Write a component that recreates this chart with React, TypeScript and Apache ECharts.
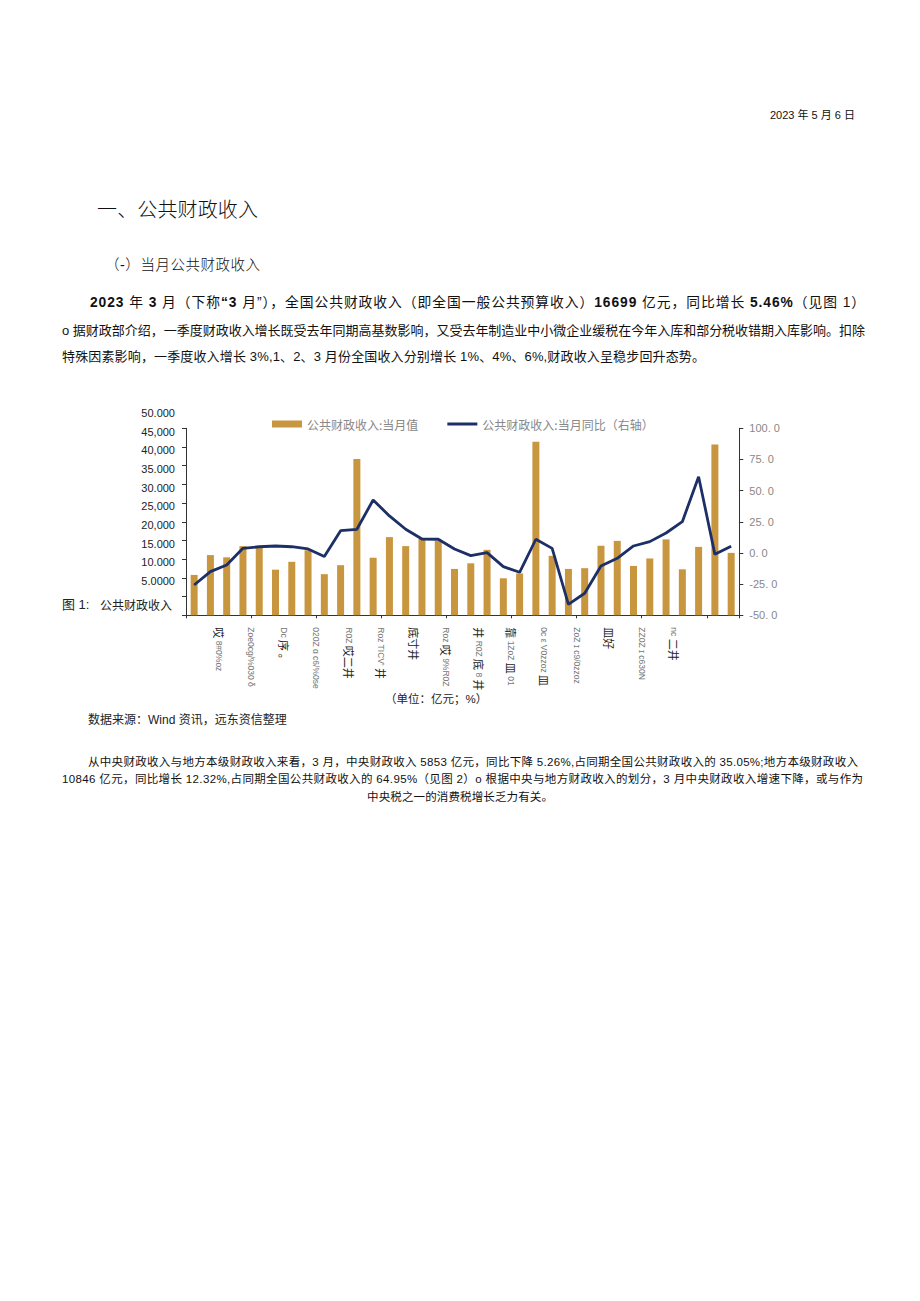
import React, { useEffect, useLayoutEffect, useRef } from 'react';
import * as echarts from 'echarts';

// ---- data ----
const categories = [
  '2020-03', '2020-04', '2020-05', '2020-06', '2020-07', '2020-08', '2020-09', '2020-10', '2020-11', '2020-12',
  '2021-02', '2021-03', '2021-04', '2021-05', '2021-06', '2021-07', '2021-08', '2021-09', '2021-10', '2021-11', '2021-12',
  '2022-02', '2022-03', '2022-04', '2022-05', '2022-06', '2022-07', '2022-08', '2022-09', '2022-10', '2022-11', '2022-12',
  '2023-02', '2023-03',
];
const revenue = [
  10800, 16100, 15500, 18500, 18100, 12200, 14300, 17400, 11000, 13400,
  41800, 15400, 20900, 18500, 20400, 19900, 12400, 13900, 17500, 9900, 11200,
  46400, 15900, 12400, 12600, 18600, 19900, 13200, 15200, 20300, 12300, 18300,
  45700, 16699,
];
const yoy = [
  -25.7, -15, -9.6, 3.7, 5, 5.6, 5, 3.2, -2.9, 17.9,
  19.0, 42.5, 29.7, 19, 11.2, 11, 3.2, -2.1, 0.3, -11, -15.5,
  11, 3.7, -41.2, -32.3, -10.4, -4.3, 5.6, 9.1, 16, 25.1, 61.2,
  -1.1, 5.46,
];
const leftTickLabels = ['', '5.0000', '10.000', '15.000', '20,000', '25,000', '30.000', '35.000', '40,000', '45,000', '50.000'];
const rightTickLabels = ['-50. 0', '-25. 0', '0. 0', '25. 0', '50. 0', '75. 0', '100. 0'];
const xTickLabels = [
  '', '哎 8#0%oz', 'Zoe0cg/%030 δ', 'Dc 序 。', '020Z ɑ c6/%0se', 'R0Z 哎二井', "Roz TICV' 井", '底寸井',
  'Roz 哎 9%R0Z', '井 R0Z 底 8 井', '靠 1ZoZ 皿 01', '0c ε V0zzoz 皿', 'ZoZ ɪ c9/0zzoz', '皿好',
  'ZZ0Z ɪ c630N', 'nc 二井', '', '',
];
const barName = '公共财政收入:当月值';
const lineName = '公共财政收入:当月同比（右轴）';

const FONT = '"Liberation Sans", "Noto Sans CJK SC", sans-serif';
const CJK = '"Noto Sans CJK SC", sans-serif';

const richify = (s: string) =>
  s
    .split(/([\u3000-\u303f\u4e00-\u9fff\uff00-\uffef]+)/)
    .map((p, i) => (p === '' ? '' : i % 2 === 1 ? `{c|${p}}` : `{l|${p}}`))
    .join('');

function Chart() {
  const ref = useRef<HTMLDivElement>(null);
  useEffect(() => {
    if (!ref.current) return;
    const chart = echarts.init(ref.current, undefined, { renderer: 'svg' });
    chart.setOption({
      animation: false,
      textStyle: { fontFamily: FONT },
      legend: {
        top: 18,
        left: 267,
        itemWidth: 30,
        itemHeight: 7,
        itemGap: 29,
        textStyle: { color: '#888', fontSize: 12, fontFamily: CJK },
        data: [
          { name: barName, icon: 'rect' },
          { name: lineName, icon: 'path://M0,0 L30,0 L30,3 L0,3 Z', itemStyle: { color: '#1C2F66' } },
        ],
      },
      grid: { left: 186, right: 180.7, top: 33.3, bottom: 124.7, containLabel: false },
      xAxis: [
        {
          type: 'category',
          data: categories,
          boundaryGap: true,
          axisLine: { show: true, lineStyle: { color: '#333', width: 1 } },
          axisTick: { show: true, length: 3, lineStyle: { color: '#333' } },
          axisLabel: { show: false },
          splitLine: { show: false },
        },
        {
          type: 'category',
          data: xTickLabels,
          boundaryGap: false,
          position: 'bottom',
          axisLine: { show: false },
          axisTick: { show: false },
          splitLine: { show: false },
          axisLabel: {
            interval: 0,
            rotate: -90,
            margin: 12,
            fontSize: 9,
            color: '#777',
            formatter: (v: string) => richify(v),
            rich: {
              c: { fontSize: 11, color: '#222', fontFamily: CJK },
              l: { fontSize: 8.5, color: '#777', fontFamily: FONT },
            },
          },
        },
      ],
      yAxis: [
        {
          type: 'value',
          min: 0,
          max: 50000,
          interval: 5000,
          axisLine: { show: true, lineStyle: { color: '#333', width: 1 } },
          axisTick: { show: true, length: 4, lineStyle: { color: '#333' } },
          splitLine: { show: false },
          axisLabel: {
            formatter: (v: number) => leftTickLabels[Math.round(v / 5000)] ?? '',
            verticalAlign: 'bottom',
            padding: [0, 0, 10, 0],
            color: '#222',
            fontSize: 11,
            margin: 11,
          },
        },
        {
          type: 'value',
          min: -50,
          max: 100,
          interval: 25,
          position: 'right',
          axisLine: { show: true, lineStyle: { color: '#333', width: 1 } },
          axisTick: { show: true, length: 4, lineStyle: { color: '#333' } },
          splitLine: { show: false },
          axisLabel: {
            formatter: (v: number) => rightTickLabels[Math.round((v + 50) / 25)] ?? '',
            color: '#888',
            fontSize: 11,
            margin: 10,
          },
        },
      ],
      series: [
        {
          name: barName,
          type: 'bar',
          xAxisIndex: 0,
          yAxisIndex: 0,
          data: revenue,
          barWidth: 7,
          itemStyle: { color: '#C8963F' },
        },
        {
          name: lineName,
          type: 'line',
          xAxisIndex: 0,
          yAxisIndex: 1,
          data: yoy,
          symbol: 'none',
          showSymbol: false,
          lineStyle: { color: '#1C2F66', width: 2.8 },
          itemStyle: { color: '#1C2F66' },
        },
      ],
      graphic: [
        {
          type: 'text',
          x: 62,
          y: 209,
          style: { text: '图 1:', fontSize: 13, fill: '#222', verticalAlign: 'middle', fontFamily: FONT },
        },
        {
          type: 'text',
          x: 100,
          y: 209,
          style: { text: '公共财政收入', fontSize: 12, fill: '#222', verticalAlign: 'middle', fontFamily: CJK },
        },
        {
          type: 'text',
          x: 385,
          y: 304,
          style: { text: '（单位：亿元；%）', fontSize: 11.5, fill: '#222', verticalAlign: 'middle', fontFamily: FONT },
        },
        {
          type: 'text',
          x: 88,
          y: 325,
          style: { text: '数据来源：Wind 资讯，远东资信整理', fontSize: 12, fill: '#222', verticalAlign: 'middle', fontFamily: FONT },
        },
      ],
    });
    return () => chart.dispose();
  }, []);
  return <div ref={ref} style={{ position: 'absolute', left: 0, top: 395, width: 920, height: 345 }} />;
}

// A single line of text stretched (via letter-spacing) to a given width
function FitLine(props: {
  left: number;
  top: number;
  width?: number;
  fontSize: number;
  weight?: number;
  children: React.ReactNode;
}) {
  const ref = useRef<HTMLDivElement>(null);
  useLayoutEffect(() => {
    const el = ref.current;
    if (!el || !props.width) return;
    el.style.letterSpacing = '0px';
    const natural = el.getBoundingClientRect().width;
    const n = (el.textContent || '').length;
    const ls = (props.width - natural) / Math.max(1, n - 1);
    el.style.letterSpacing = ls.toFixed(3) + 'px';
  }, []);
  return (
    <div
      ref={ref}
      style={{
        position: 'absolute',
        left: props.left,
        top: props.top,
        display: 'inline-block',
        whiteSpace: 'nowrap',
        fontFamily: FONT,
        fontSize: props.fontSize,
        lineHeight: `${Math.round(props.fontSize + 2)}px`,
        fontWeight: props.weight ?? 400,
        color: '#111',
      }}
    >
      {props.children}
    </div>
  );
}

export default function App() {
  return (
    <div style={{ position: 'absolute', left: 0, top: 0, width: 920, height: 1301, background: '#fff', overflow: 'hidden' }}>
      <FitLine left={770} top={109} width={85} fontSize={11}>2023 年 5 月 6 日</FitLine>
      <FitLine left={97} top={199} width={161} fontSize={20} weight={300}>一、公共财政收入</FitLine>
      <FitLine left={105} top={257} width={155} fontSize={14.5} weight={300}>（-）当月公共财政收入</FitLine>

      <FitLine left={90} top={295} width={775} fontSize={13.8}>
        <b>2023</b> 年 <b>3</b> 月（下称<b>“3</b> 月”），全国公共财政收入（即全国一般公共预算收入）<b>16699</b> 亿元，同比增长 <b>5.46%</b>（见图 1）
      </FitLine>
      <FitLine left={62} top={323} width={803} fontSize={13}>
        o 据财政部介绍，一季度财政收入增长既受去年同期高基数影响，又受去年制造业中小微企业缓税在今年入库和部分税收错期入库影响。扣除
      </FitLine>
      <FitLine left={62} top={349} width={643} fontSize={13}>
        特殊因素影响，一季度收入增长 3%,1、2、3 月份全国收入分别增长 1%、4%、6%,财政收入呈稳步回升态势。
      </FitLine>

      <Chart />

      <FitLine left={88} top={755} width={770} fontSize={11.5}>
        从中央财政收入与地方本级财政收入来看，3 月，中央财政收入 5853 亿元，同比下降 5.26%,占同期全国公共财政收入的 35.05%;地方本级财政收入
      </FitLine>
      <FitLine left={62} top={772} width={801} fontSize={11.5}>
        10846 亿元，同比增长 12.32%,占同期全国公共财政收入的 64.95%（见图 2）o 根据中央与地方财政收入的划分，3 月中央财政收入增速下降，或与作为
      </FitLine>
      <FitLine left={367} top={790} width={186} fontSize={11.5}>
        中央税之一的消费税增长乏力有关。
      </FitLine>
    </div>
  );
}
